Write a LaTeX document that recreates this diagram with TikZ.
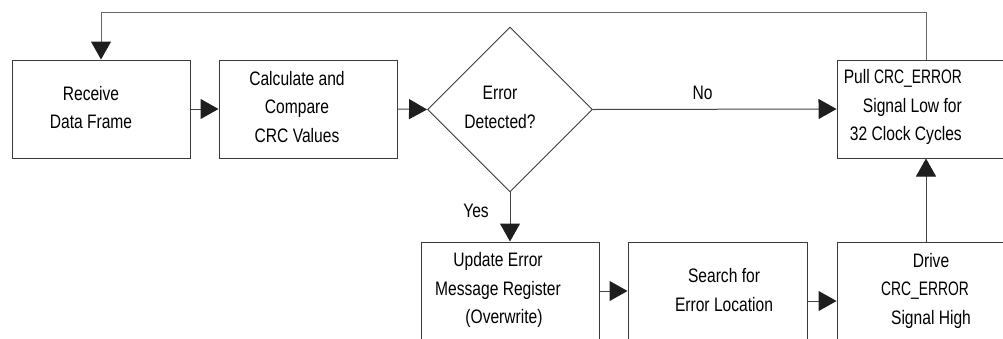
\documentclass[tikz,border=0pt]{standalone}
\usepackage{fontspec}
\setmainfont[FakeStretch=0.8]{Liberation Sans}
\newfontfamily\crcfont[FakeStretch=0.71]{Liberation Sans}
\newcommand{\crcerr}{{\crcfont CRC\_ERROR}}
\usetikzlibrary{shapes.geometric,arrows.meta,calc}
\definecolor{boxline}{HTML}{3A3A3A}
\definecolor{connline}{HTML}{444444}
\definecolor{loopline}{HTML}{666666}
\definecolor{tipcol}{HTML}{1E1E1E}
\tikzset{
  box/.style={draw=boxline, line width=1pt, rectangle, minimum width=178pt, minimum height=98pt, inner sep=0pt},
  decbox/.style={draw=boxline, line width=0.9pt, diamond, minimum width=165pt, minimum height=165pt, inner sep=0pt},
  txt/.style={font=\fontsize{19.5}{28.5}\selectfont, align=center, inner sep=0pt, text=black},
  conn/.style={draw=connline, line width=1pt, -{Triangle[length=18pt,width=20pt,fill=tipcol,color=tipcol]}},
  loopconn/.style={conn, draw=loopline}
}
\begin{document}
\begin{tikzpicture}[x=1pt,y=-1pt]
\useasboundingbox (0,0) rectangle (1003,338);
\clip (0,0) rectangle (1003,338);
\fill[white] (0,0) rectangle (1003,338);
% boxes
\node[box] (recv) at (101,109) {};
\node[box] (calc) at (308,109) {};
\node[decbox] (dec) at (510,109.5) {};
\node[box] (pull) at (926,109) {};
\node[box] (upd) at (510,291) {};
\node[box, minimum width=179pt] (srch) at (717.5,291) {};
\node[box] (drv) at (926,291) {};
% texts
\node[txt] (trecv) at (91,107.5) {Receive\\Data Frame};
\node[txt] (tcalc) at (297,107) {Calculate and\\Compare\\CRC Values};
\node[txt] (tdec) at (500,107.5) {Error\\Detected?};
\node[txt, align=right, anchor=east] (tpull) at (962,107) {Pull \crcerr\\Signal Low for\\32 Clock Cycles};
\node[txt] (tupd) at (498,290) {Update Error\\Message Register\\\hspace*{12pt}(Overwrite)};
\node[txt] (tsrch) at (724,290) {Search for\\Error Location};
\node[txt] (tdrv) at (931,290.5) {Drive\\\hspace*{-12pt}\crcerr\\Signal High};
% connectors
\draw[conn] (recv.east) -- (calc.west);
\draw[conn] (calc.east) -- (dec.west);
\draw[conn] (dec.east) -- node[pos=0.45, yshift=16.5pt, txt] (lno) {No} (pull.west);
\draw[conn] (dec.south) -- node[pos=0.38, xshift=-34pt, txt] (lyes) {Yes} (upd.north);
\draw[conn] (upd.east) -- (srch.west);
\draw[conn] ([yshift=-10pt]srch.east) -- ([yshift=-10pt]drv.west);
\draw[conn] (drv.north) -- (pull.south);
\coordinate (toprow) at (0,12);
\draw[loopconn] (pull.north) |- (toprow -| recv.north) -- (recv.north);
\end{tikzpicture}
\end{document}
